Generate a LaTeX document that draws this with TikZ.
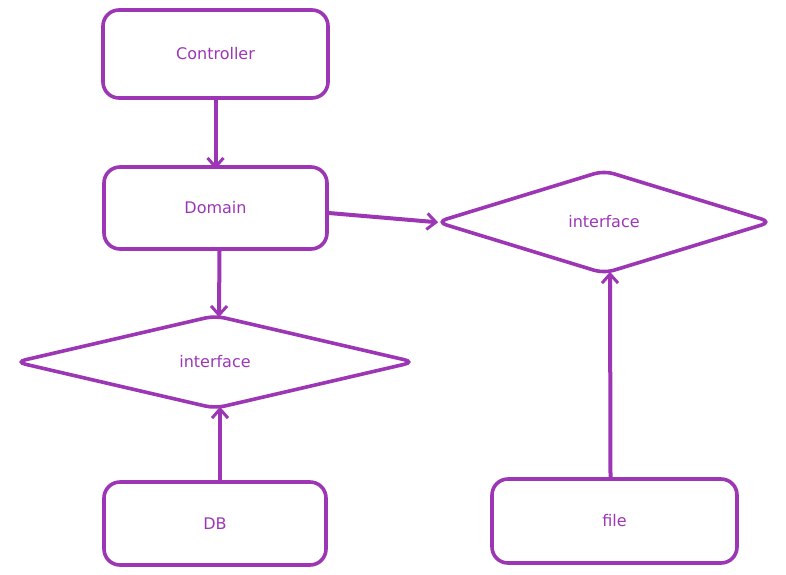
\documentclass[tikz,border=0pt]{standalone}
\usepackage{fontspec}
\setmainfont{DejaVu Sans}
\usetikzlibrary{arrows.meta,positioning,shapes.geometric}
\definecolor{violet}{HTML}{9C36B5}
\begin{document}
\begin{tikzpicture}[x=1pt,y=-1pt,box/.style={draw=violet,line width=3.6pt,rounded corners=16pt,text=violet,font=\fontsize{16}{19}\selectfont,minimum height=84pt,minimum width=223pt},iface/.style={draw=violet,diamond,line width=3.6pt,rounded corners=10pt,text=violet,font=\fontsize{16}{19}\selectfont,inner sep=0pt},arr/.style={-{Straight Barb[length=9pt,width=16pt,line width=3pt]},draw=violet,line width=4pt,shorten >=-4pt}]
\useasboundingbox (0,0) rectangle (786,574);
\node[box,minimum height=88pt,minimum width=225pt] (ctrl) at (215.5,54) {Controller};
\node[box,minimum height=82pt] (domain) at (215.5,208) {Domain};
\node[iface,minimum width=400pt,minimum height=94pt] (dbif) at (215,362) {interface};
\node[box,minimum height=83pt,minimum width=222pt] (db) at (215,523.5) {DB};
\node[iface,minimum width=336pt,minimum height=104pt] (fileif) at (604,222) {interface};
\node[box,minimum width=245pt] (file) at (614.5,521) {file};
\draw[arr] (ctrl.south)--(domain.north);
\draw[arr] ([xshift=4pt]domain.south)--([xshift=4pt]dbif.north);
\draw[arr] ([xshift=5pt]db.north)--([xshift=5pt]dbif.south);
\draw[arr] ([xshift=-4pt]file.north)--([xshift=6pt]fileif.south);
\draw[arr] ([yshift=-5pt]domain.east)--(fileif.west);
\end{tikzpicture}
\end{document}
